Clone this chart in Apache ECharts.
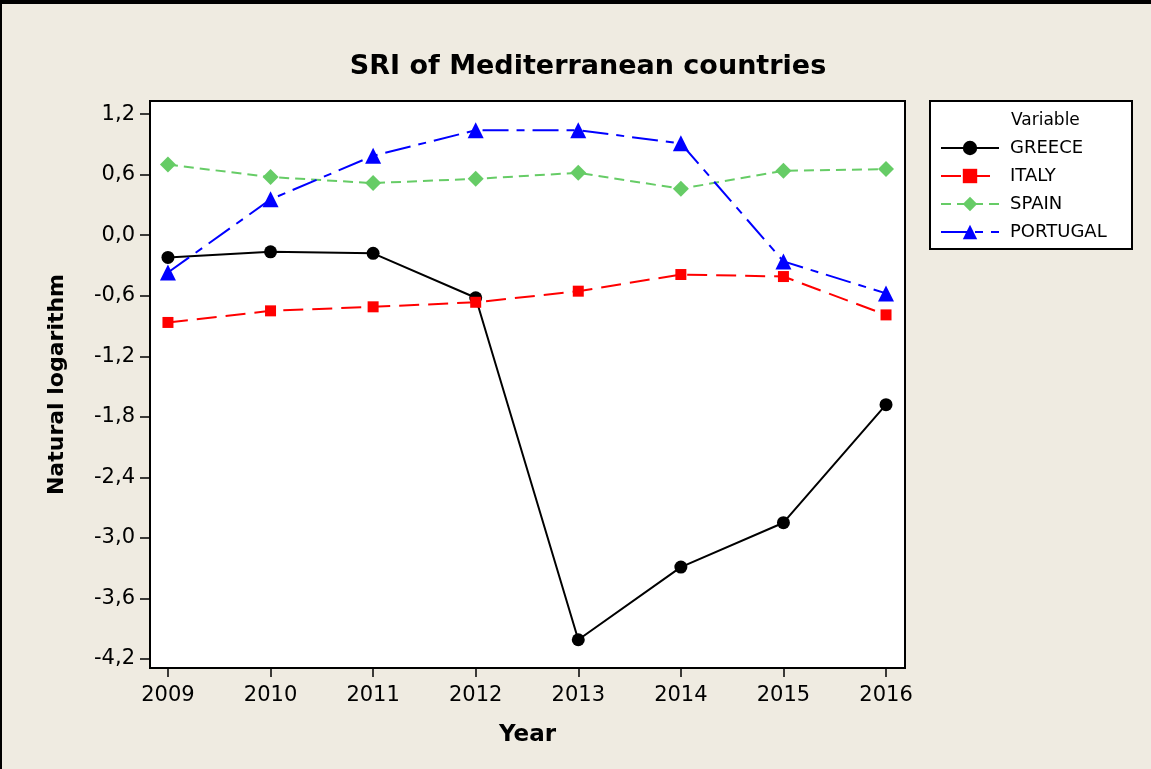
<!DOCTYPE html>
<html>
<head>
<meta charset="utf-8">
<script src="https://cdn.jsdelivr.net/npm/echarts@6/dist/echarts.min.js"></script>
<style>
  html, body { margin: 0; padding: 0; background: #efebe1; }
  #chart { width: 1151px; height: 769px; }
</style>
</head>
<body>
<div id="chart"></div>
<script>
// data
const years = [2009, 2010, 2011, 2012, 2013, 2014, 2015, 2016];
const greece = [-0.22, -0.165, -0.18, -0.62, -4.01, -3.29, -2.85, -1.68];
const italy = [-0.865, -0.75, -0.71, -0.665, -0.555, -0.39, -0.41, -0.79];
const spain = [0.70, 0.576, 0.516, 0.559, 0.618, 0.46, 0.638, 0.655];
const portugal = [-0.37, 0.355, 0.787, 1.04, 1.04, 0.91, -0.26, -0.577];
const yTicks = [-4.2, -3.6, -3.0, -2.4, -1.8, -1.2, -0.6, 0.0, 0.6, 1.2];

const font = "DejaVu Sans";
const pairs = (vals) => years.map((y, i) => [y, vals[i]]);

const chart = echarts.init(document.getElementById("chart"));

const option = {
  backgroundColor: "#efebe1",
  animation: false,
  title: {
    text: "SRI of Mediterranean countries",
    left: 583,
    textAlign: "center",
    top: 48,
    textStyle: { fontFamily: font, fontWeight: "bold", fontSize: 27, color: "#000" },
  },
  grid: {
    left: 150,
    right: 246,
    top: 101,
    bottom: 101,
    show: true,
    backgroundColor: "#fff",
    borderColor: "#000",
    borderWidth: 2,
  },
  legend: {
    orient: "vertical",
    left: 940,
    top: 139,
    padding: 0,
    itemWidth: 58,
    itemHeight: 18,
    itemGap: 10,
    textStyle: { fontFamily: font, fontSize: 18, color: "#000", padding: [0, 0, 0, 6] },
    data: ["GREECE", "ITALY", "SPAIN", "PORTUGAL"],
  },
  graphic: [
    {
      type: "rect",
      shape: { x: 930, y: 101, width: 202, height: 148 },
      style: { fill: "#fff", stroke: "#000", lineWidth: 2 },
      z: -1,
    },
    {
      type: "text",
      x: 1011,
      y: 121,
      style: { text: "Variable", font: "17px " + font, fill: "#000", textVerticalAlign: "middle" },
    },
    { type: "rect", shape: { x: 0, y: 0, width: 1151, height: 4 }, style: { fill: "#000" } },
    { type: "rect", shape: { x: 0, y: 0, width: 2, height: 769 }, style: { fill: "#000" } },
  ],
  xAxis: {
    type: "value",
    min: 2008.825,
    max: 2016.185,
    name: "Year",
    nameLocation: "middle",
    nameGap: 56,
    nameTextStyle: { fontFamily: font, fontWeight: "bold", fontSize: 23, color: "#000" },
    axisLine: { show: true, onZero: false, lineStyle: { color: "#000", width: 2 } },
    axisTick: { show: true, length: 9, customValues: years, lineStyle: { color: "#000", width: 1.5 } },
    axisLabel: {
      customValues: years,
      margin: 17,
      fontFamily: font,
      fontSize: 21,
      color: "#000",
      formatter: (v) => String(v),
    },
    splitLine: { show: false },
  },
  yAxis: {
    type: "value",
    min: -4.29,
    max: 1.33,
    name: "Natural logarithm",
    nameLocation: "middle",
    nameGap: 82,
    nameTextStyle: { fontFamily: font, fontWeight: "bold", fontSize: 22, color: "#000" },
    axisLine: { show: true, onZero: false, lineStyle: { color: "#000", width: 2 } },
    axisTick: { show: true, length: 10, customValues: yTicks, lineStyle: { color: "#000", width: 1.5 } },
    axisLabel: {
      customValues: yTicks,
      margin: 15,
      fontFamily: font,
      fontSize: 21,
      color: "#000",
      formatter: (v) => v.toFixed(1).replace(".", ","),
    },
    splitLine: { show: false },
  },
  series: [
    {
      name: "GREECE",
      type: "line",
      data: pairs(greece),
      symbol: "circle",
      symbolSize: 13,
      itemStyle: { color: "#000" },
      lineStyle: { color: "#000", width: 2, type: "solid" },
    },
    {
      name: "ITALY",
      type: "line",
      data: pairs(italy),
      symbol: "rect",
      symbolSize: 11,
      itemStyle: { color: "#ff0000" },
      lineStyle: { color: "#ff0000", width: 2, type: [20, 9] },
    },
    {
      name: "SPAIN",
      type: "line",
      data: pairs(spain),
      symbol: "diamond",
      symbolSize: 16,
      itemStyle: { color: "#66cc66" },
      lineStyle: { color: "#66cc66", width: 2, type: [10, 6] },
    },
    {
      name: "PORTUGAL",
      type: "line",
      data: pairs(portugal),
      symbol: "triangle",
      symbolSize: 16,
      itemStyle: { color: "#0000ff" },
      lineStyle: { color: "#0000ff", width: 2, type: [26, 8, 8, 8] },
    },
  ],
};

chart.setOption(option);
</script>
</body>
</html>
